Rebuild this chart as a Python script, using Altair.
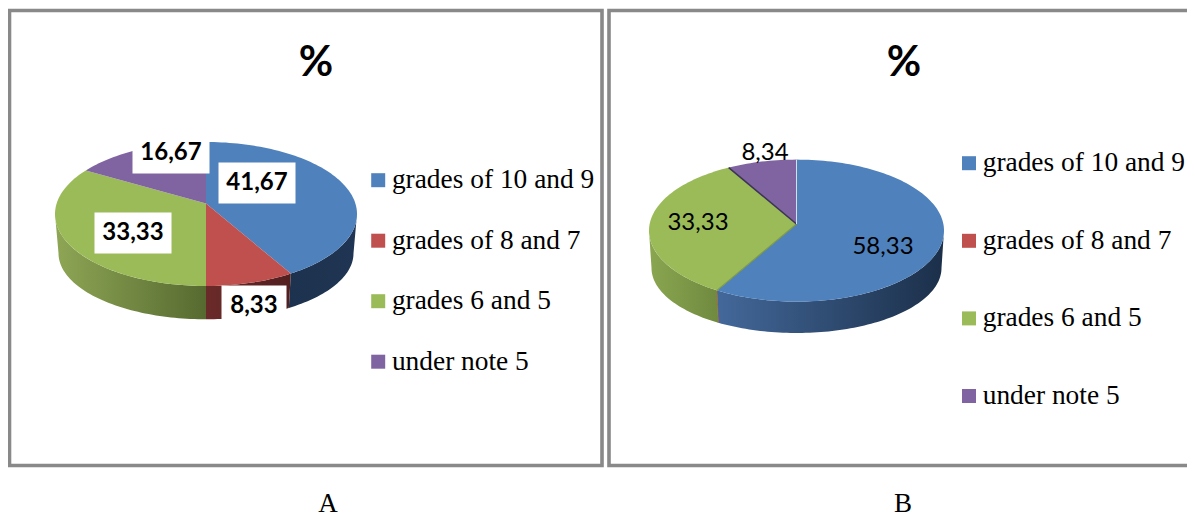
import math
import altair as alt
import pandas as pd

series = ["grades of 10 and 9", "grades of 8 and 7", "grades 6 and 5", "under note 5"]
values_a = [41.67, 8.33, 33.33, 16.67]
values_b = [58.33, 0.0, 33.33, 8.34]
top_colors = ["#4f81bd", "#c0504d", "#9bbb59", "#8064a2"]
captions = ["A", "B"]
title_text = "%"

SERIF = "Liberation Serif"
SANS = "Lato"
FRAME = "#898989"

GEO_A = dict(cx=206, cy=214, rx=151, ry=72, vy=203.5, bcy=253.3, brx=147.5, bry=66)
GEO_B = dict(cx=796.5, cy=230.6, rx=147.5, ry=71, vy=224, bcy=268, brx=145, bry=65)

SIDE_A = {
    0: ("#1d324e", "#1f3553"),
    1: ("#6b2a2a", "#521f1f"),
    2: ("#8ea655", "#566a30"),
}
SIDE_B = {
    0: ("#43689a", "#1b2f49"),
    1: ("#c0504d", "#c0504d"),
    2: ("#8ba650", "#6f8a3f"),
}
LABELS_A = {0: (257, 183), 1: (254, 306), 2: (133, 233), 3: (171, 153)}
LABELS_B = {0: (883, 247), 2: (698, 223), 3: (765, 153)}
EDGES_B = {2: ("#7d9a45", 1.2), 3: ("#3c3357", 1.6), 0: ("#d5dfee", 1)}

XS = alt.Scale(domain=[8, 1187], nice=False, zero=False)
YS = alt.Scale(domain=[8, 520], nice=False, zero=False, reverse=True)
X = alt.X("x:Q", scale=XS, axis=None)
Y = alt.Y("y:Q", scale=YS, axis=None)


def rim_phi(turn, g):
    if turn >= 2 * math.pi - 1e-9:
        return 2 * math.pi
    off = (g["vy"] - g["cy"]) / g["ry"]
    sx, sy = math.sin(turn), -math.cos(turn)
    b = off * sy
    s = -b + math.sqrt(b * b - (off * off - 1))
    px, py = s * sx, off + s * sy
    return math.atan2(px, -py) % (2 * math.pi)


def arc(a, b, g, bottom=False):
    cy, rx, ry = (g["bcy"], g["brx"], g["bry"]) if bottom else (g["cy"], g["rx"], g["ry"])
    n = max(1, int(abs(b - a) / math.radians(1.5)))
    return [
        (g["cx"] + rx * math.sin(a + (b - a) * k / n), cy - ry * math.cos(a + (b - a) * k / n))
        for k in range(n + 1)
    ]


def slices(values, g):
    total = sum(values)
    out, acc = [], 0.0
    for v in values:
        t1 = acc / total * 2 * math.pi
        acc += v
        t2 = acc / total * 2 * math.pi
        out.append((rim_phi(t1, g), rim_phi(t2, g)))
    return out


def table(points, **extra):
    return pd.DataFrame([dict(x=x, y=y, i=i, **extra) for i, (x, y) in enumerate(points)])


def outline(points):
    return alt.Chart(table(points)).mark_line(
        color=FRAME, strokeWidth=3.6, strokeCap="square", strokeJoin="miter"
    ).encode(x=X, y=Y, order="i:Q")


def panel(values, g, sides, labels, legend_x, legend_y, row_pad, boxed, field, edges=None):
    layers = []
    phis = slices(values, g)
    for idx, (p1, p2) in enumerate(phis):
        a, b = max(p1, math.pi / 2), min(p2, 3 * math.pi / 2)
        if idx in sides and a <= b:
            c1, c2 = sides[idx]
            pts = arc(a, b, g) + arc(b, a, g, bottom=True)
            grad = alt.LinearGradient(gradient="linear", x1=0, x2=1, y1=0, y2=0,
                                      stops=[alt.GradientStop(color=c1, offset=0),
                                             alt.GradientStop(color=c2, offset=1)])
            mk = dict(fill=grad, strokeWidth=1 if values[idx] == 0 else 0)
            if values[idx] == 0:
                mk["stroke"] = c1
            layers.append(alt.Chart(table(pts)).mark_line(**mk).encode(x=X, y=Y, order="i:Q"))
    rows = []
    for idx, (p1, p2) in enumerate(phis):
        pts = [(g["cx"], g["vy"])] + arc(p1, p2, g)
        rows.append(table(pts, **{field: series[idx]}))
    faces = pd.concat(rows)
    layers.append(
        alt.Chart(faces).mark_line(filled=True, strokeWidth=0, interpolate="linear").encode(
            x=X, y=Y, order="i:Q",
            color=alt.Color(f"{field}:N", scale=alt.Scale(domain=series, range=top_colors),
                            legend=alt.Legend(
                                orient="none", legendX=legend_x - 8, legendY=legend_y - 8,
                                title=None, symbolType="square", symbolSize=196, symbolStrokeWidth=0,
                                labelFont=SERIF, labelFontSize=27.4, labelColor="black",
                                labelOffset=0, rowPadding=row_pad, labelLimit=300, padding=0,
                                symbolOpacity=1)),
        ))
    for idx, (color, w) in (edges or {}).items():
        phi = phis[idx][0]
        tip = arc(phi, phi, g)[0]
        layers.append(alt.Chart(table([(g["cx"], g["vy"]), tip])).mark_line(color=color, strokeWidth=w)
                      .encode(x=X, y=Y, order="i:Q"))
    text = pd.DataFrame([dict(x=labels[i][0], y=labels[i][1], t=f"{values[i]:.2f}".replace(".", ","))
                         for i in labels])
    if boxed:
        text["half"] = text["t"].str.len() * 6 + 8.5
        text["x1"], text["x2"] = text["x"] - text["half"], text["x"] + text["half"]
        text["y1"], text["y2"] = text["y"] - 20.5, text["y"] + 20.5
        layers.append(alt.Chart(text).mark_rect(color="white").encode(
            x=alt.X("x1:Q", scale=XS, axis=None), x2="x2:Q",
            y=alt.Y("y1:Q", scale=YS, axis=None), y2="y2:Q"))
    layers.append(alt.Chart(text).mark_text(font=SANS, fontSize=24, fontWeight="bold" if boxed else "normal", color="black")
                  .encode(x=X, y=Y, text="t:N"))
    return layers


frame_a = outline([(9.5, 10.5), (602, 10.5), (602, 465.5), (9.5, 465.5), (9.5, 10.5)])
frame_b = outline([(1195, 10.5), (609, 10.5), (609, 465.5), (1195, 465.5)])
pct = alt.Chart(pd.DataFrame({"x": [316, 904], "y": [63, 63], "t": [title_text, title_text]})).mark_text(
    font=SANS, fontSize=42, fontWeight="bold", color="black").encode(x=X, y=Y, text="t:N")
cap = alt.Chart(pd.DataFrame({"x": [328, 903], "y": [504, 504], "t": captions})).mark_text(
    font=SERIF, fontSize=27, color="black").encode(x=X, y=Y, text="t:N")

layers = [frame_a, frame_b, pct, cap]
layers += panel(values_a, GEO_A, SIDE_A, LABELS_A, 364.5, 166.5, 31.5, True, "series_a")
layers += panel(values_b, GEO_B, SIDE_B, LABELS_B, 955.3, 149.5, 48.6, False, "series_b", EDGES_B)

chart = (alt.layer(*layers)
         .properties(width=1179, height=512, padding=0,
                     autosize=alt.AutoSizeParams(type="none", contains="content"))
         .resolve_scale(color="independent")
         .configure_view(stroke=None))
chart.save("out.html", embed_options={"renderer": "svg", "actions": False})
